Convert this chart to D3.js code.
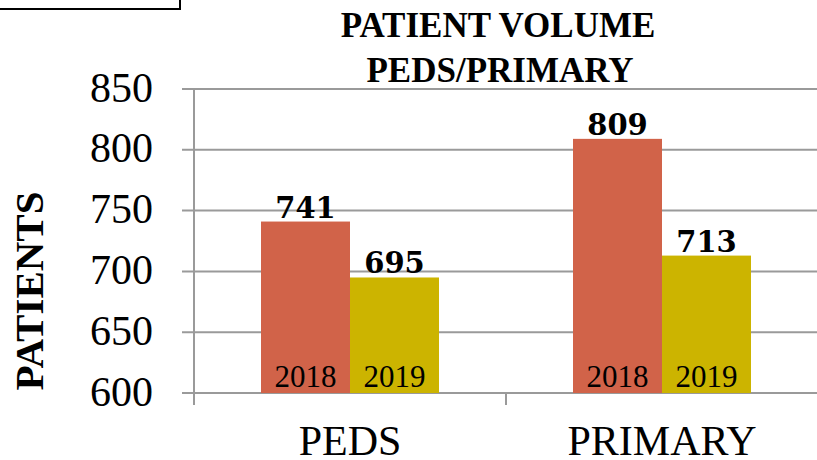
<!DOCTYPE html>
<html>
<head>
<meta charset="utf-8">
<script src="https://cdn.jsdelivr.net/npm/d3@7"></script>
<style>
  body { margin: 0; background: #fff; }
  svg { display: block; }
  text { font-family: "Liberation Serif", "Times New Roman", serif; }
</style>
</head>
<body>
<svg id="chart" width="817" height="460"></svg>
<script>
// data
const categories = ["PEDS", "PRIMARY"];
const years = ["2018", "2019"];
const values2018 = [741, 809];
const values2019 = [695, 713];
const yTicks = [600, 650, 700, 750, 800, 850];
const colors = ["#D16349", "#CCB400"];

const width = 817;
const height = 460;
const margin = { top: 89, right: -1, bottom: 67, left: 194 };
const innerWidth = width - margin.left - margin.right;
const innerHeight = height - margin.top - margin.bottom;

const svg = d3.select("#chart");

// left-over box in the corner
svg.append("rect")
  .attr("x", -5).attr("y", -5)
  .attr("width", 185).attr("height", 14)
  .attr("fill", "none")
  .attr("stroke", "#000")
  .attr("stroke-width", 2);

const x0 = d3.scaleBand().domain(categories).range([0, innerWidth]);
const x1 = d3.scaleBand().domain(years).range([0, 178]);
const y = d3.scaleLinear().domain([600, 850]).range([innerHeight, 0]);

const g = svg.append("g").attr("transform", `translate(${margin.left},${margin.top})`);

// gridlines
g.append("g")
  .selectAll("line")
  .data(yTicks)
  .join("line")
  .attr("x1", -12)
  .attr("x2", innerWidth)
  .attr("y1", (d) => y(d))
  .attr("y2", (d) => y(d))
  .attr("stroke", "#9a9a9a")
  .attr("stroke-width", 2);

// y tick labels
g.append("g")
  .selectAll("text")
  .data(yTicks)
  .join("text")
  .attr("x", -41)
  .attr("y", (d) => y(d))
  .attr("dy", "0.3em")
  .attr("text-anchor", "end")
  .attr("font-size", 42)
  .attr("fill", "#000")
  .text((d) => d);

// y axis line
g.append("line")
  .attr("x1", 0).attr("x2", 0)
  .attr("y1", 0).attr("y2", innerHeight + 12)
  .attr("stroke", "#9a9a9a")
  .attr("stroke-width", 2);

// category separators
g.append("g")
  .selectAll("line")
  .data(categories)
  .join("line")
  .attr("x1", (d) => x0(d) + x0.bandwidth())
  .attr("x2", (d) => x0(d) + x0.bandwidth())
  .attr("y1", innerHeight)
  .attr("y2", innerHeight + 12)
  .attr("stroke", "#9a9a9a")
  .attr("stroke-width", 2);

// bars
const rows = categories.map((c, i) => ({
  cat: c,
  vals: [
    { year: years[0], v: values2018[i] },
    { year: years[1], v: values2019[i] },
  ],
}));

const groups = g.selectAll(".grp")
  .data(rows)
  .join("g")
  .attr("class", "grp")
  .attr("transform", (d) => `translate(${x0(d.cat) + (x0.bandwidth() - 178) / 2},0)`);

groups.selectAll("rect")
  .data((d) => d.vals)
  .join("rect")
  .attr("x", (d) => x1(d.year))
  .attr("width", x1.bandwidth())
  .attr("y", (d) => y(d.v))
  .attr("height", (d) => innerHeight - y(d.v))
  .attr("fill", (d, i) => colors[i]);

// value labels
groups.selectAll(".val")
  .data((d) => d.vals)
  .join("text")
  .attr("class", "val")
  .attr("x", (d) => x1(d.year) + x1.bandwidth() / 2)
  .attr("y", (d) => y(d.v) - 4)
  .attr("text-anchor", "middle")
  .attr("font-size", 29)
  .attr("font-weight", "bold")
  .style("font-family", "'DejaVu Serif', serif")
  .text((d) => d.v);

// year labels inside bars
groups.selectAll(".yr")
  .data((d) => d.vals)
  .join("text")
  .attr("class", "yr")
  .attr("x", (d) => x1(d.year) + x1.bandwidth() / 2)
  .attr("y", innerHeight - 6)
  .attr("text-anchor", "middle")
  .attr("font-size", 31)
  .text((d) => d.year);

// x labels
g.append("g")
  .selectAll("text")
  .data(categories)
  .join("text")
  .attr("x", (d) => x0(d) + x0.bandwidth() / 2)
  .attr("y", innerHeight + 62)
  .attr("text-anchor", "middle")
  .attr("font-size", 42)
  .text((d) => d);

// title
svg.append("text")
  .attr("x", 498).attr("y", 37)
  .attr("text-anchor", "middle")
  .attr("font-size", 35)
  .attr("font-weight", "bold")
  .text("PATIENT VOLUME");
svg.append("text")
  .attr("x", 500).attr("y", 82)
  .attr("text-anchor", "middle")
  .attr("font-size", 35)
  .attr("font-weight", "bold")
  .text("PEDS/PRIMARY");

// y axis title
svg.append("text")
  .attr("transform", "translate(43,291) rotate(-90)")
  .attr("text-anchor", "middle")
  .attr("font-size", 41)
  .attr("font-weight", "bold")
  .text("PATIENTS");
</script>
</body>
</html>
